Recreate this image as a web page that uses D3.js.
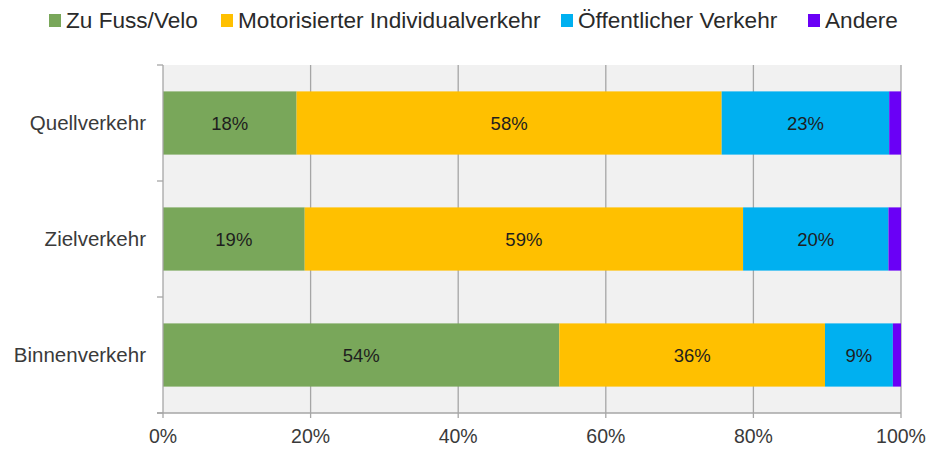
<!DOCTYPE html>
<html lang="de">
<head>
  <meta charset="UTF-8" />
  <title>Verkehrsmittelwahl</title>
  <script src="https://d3js.org/d3.v7.min.js"></script>
  <style>
    body { margin: 0; background: #fff; }
    svg { display: block; font-family: 'Liberation Sans', Arial, sans-serif; }
    .cat, .tick-label { fill: #3a3a3a; }
    .seg-label { fill: #1e1e1e; }
  </style>
</head>
<body>
  <svg id="chart" width="940" height="450"></svg>

  <script>
    // Daten (Anteile in %)
    const categories = ["Quellverkehr", "Zielverkehr", "Binnenverkehr"];
    const seriesNames = ["Zu Fuss/Velo", "Motorisierter Individualverkehr", "Öffentlicher Verkehr", "Andere"];
    const seriesColors = ["#79a75a", "#ffc000", "#00b0f0", "#6a00f6"];
    const fussVelo = [18.1, 19.2, 53.7];
    const miv = [57.6, 59.4, 36.0];
    const oev = [22.7, 19.7, 9.2];
    const andere = [1.6, 1.7, 1.1];
    const fussVeloLabels = ["18%", "19%", "54%"];
    const mivLabels = ["58%", "59%", "36%"];
    const oevLabels = ["23%", "20%", "9%"];
    const andereLabels = ["", "", ""];
    const xTicks = [0, 20, 40, 60, 80, 100];

    const keys = ["fuss", "miv", "oev", "andere"];
    const rows = categories.map((c, i) => ({
      cat: c, fuss: fussVelo[i], miv: miv[i], oev: oev[i], andere: andere[i]
    }));
    const labels = { fuss: fussVeloLabels, miv: mivLabels, oev: oevLabels, andere: andereLabels };

    const svg = d3.select("#chart");
    const pLeft = 163, pRight = 901, pTop = 65, pBottom = 413;

    const x = d3.scaleLinear().domain([0, 100]).range([pLeft, pRight]);
    const y = d3.scaleBand().domain(categories).range([pTop, pBottom]).paddingInner(0.455).paddingOuter(0.2275);
    const yOuter = d3.scaleBand().domain(categories).range([pTop, pBottom]);
    const color = d3.scaleOrdinal().domain(keys).range(seriesColors);

    // Hintergrund
    svg.append("rect")
      .attr("x", pLeft).attr("y", pTop)
      .attr("width", pRight - pLeft).attr("height", pBottom - pTop)
      .attr("fill", "#f1f1f1");

    // Gitternetz
    svg.selectAll("line.grid")
      .data(xTicks.slice(1)).enter().append("line")
      .attr("class", "grid")
      .attr("x1", d => x(d)).attr("x2", d => x(d))
      .attr("y1", pTop).attr("y2", pBottom)
      .attr("stroke", "#a6a6a6").attr("stroke-width", 1.3);

    // Balken
    const stack = d3.stack().keys(keys)(rows);
    const layers = svg.selectAll("g.layer")
      .data(stack).enter().append("g")
      .attr("class", "layer")
      .attr("fill", d => color(d.key));

    layers.selectAll("rect")
      .data(d => d.map(s => Object.assign(s, { key: d.key }))).enter().append("rect")
      .attr("x", d => x(d[0]))
      .attr("width", d => x(d[1]) - x(d[0]))
      .attr("y", d => y(d.data.cat))
      .attr("height", y.bandwidth());

    layers.selectAll("text")
      .data(d => d).enter().append("text")
      .attr("class", "seg-label")
      .attr("x", d => (x(d[0]) + x(d[1])) / 2)
      .attr("y", d => y(d.data.cat) + y.bandwidth() / 2)
      .attr("dy", "0.36em")
      .attr("text-anchor", "middle")
      .style("font-size", "18.5px")
      .text(d => labels[d.key][categories.indexOf(d.data.cat)]);

    // Achsen
    svg.append("line")
      .attr("x1", pLeft).attr("x2", pLeft).attr("y1", pTop).attr("y2", pBottom)
      .attr("stroke", "#a6a6a6").attr("stroke-width", 1.3);
    const yTickPos = categories.map(c => yOuter(c)).concat([pBottom]);
    svg.selectAll("line.ytick")
      .data(yTickPos).enter().append("line")
      .attr("x1", pLeft - 6).attr("x2", pLeft)
      .attr("y1", d => d).attr("y2", d => d)
      .attr("stroke", "#a6a6a6").attr("stroke-width", 1.3);

    svg.append("line")
      .attr("x1", pLeft - 6).attr("x2", pRight).attr("y1", pBottom).attr("y2", pBottom)
      .attr("stroke", "#a6a6a6").attr("stroke-width", 1.3);
    svg.selectAll("line.xtick")
      .data(xTicks).enter().append("line")
      .attr("x1", d => x(d)).attr("x2", d => x(d))
      .attr("y1", pBottom).attr("y2", pBottom + 5)
      .attr("stroke", "#a6a6a6").attr("stroke-width", 1.3);

    svg.selectAll("text.tick-label")
      .data(xTicks).enter().append("text")
      .attr("class", "tick-label")
      .attr("x", d => x(d))
      .attr("y", 443)
      .attr("text-anchor", "middle")
      .style("font-size", "19.5px")
      .text(d => d + "%");

    svg.selectAll("text.cat")
      .data(categories).enter().append("text")
      .attr("class", "cat")
      .attr("x", 146)
      .attr("y", d => yOuter(d) + yOuter.bandwidth() / 2)
      .attr("dy", "0.36em")
      .attr("text-anchor", "end")
      .style("font-size", "20.5px")
      .text(d => d);

    // Legende
    const legendX = [49, 221, 561, 808];
    const legend = svg.selectAll("g.legend")
      .data(seriesNames).enter().append("g")
      .attr("class", "legend")
      .attr("transform", (d, i) => `translate(${legendX[i]},0)`);
    legend.append("rect")
      .attr("x", 0).attr("y", 14)
      .attr("width", 12).attr("height", 13)
      .attr("fill", (d, i) => seriesColors[i]);
    legend.append("text")
      .attr("x", 17).attr("y", 28)
      .attr("fill", "#2a2a2a")
      .style("font-size", "22.6px")
      .text(d => d);
  </script>
</body>
</html>
